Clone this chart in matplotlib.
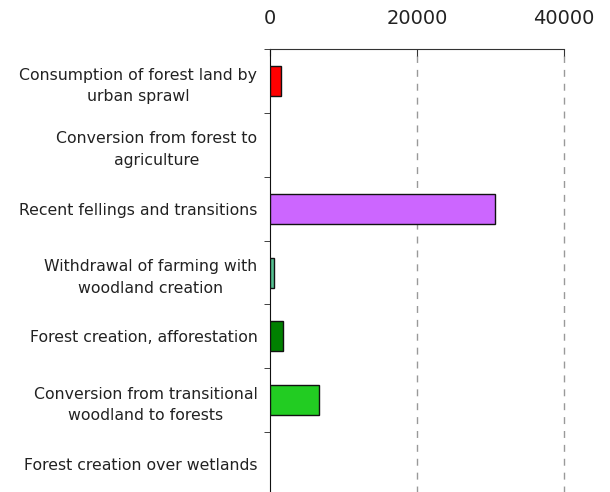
import matplotlib
matplotlib.use("Agg")
import matplotlib.pyplot as plt
import numpy as np

plt.rcParams["font.family"] = ["DejaVu Sans"]

categories = [
    "Consumption of forest land by\nurban sprawl",
    "Conversion from forest to\nagriculture",
    "Recent fellings and transitions",
    "Withdrawal of farming with\nwoodland creation",
    "Forest creation, afforestation",
    "Conversion from transitional\nwoodland to forests",
    "Forest creation over wetlands",
]
values = [1450, 0, 30600, 600, 1730, 6620, 0]
colors = ["#ff0000", "#999999", "#cc66ff", "#55c090", "#008000", "#22cc22", "#999999"]
xticks = [0, 20000, 40000]

fig = plt.figure(figsize=(6.10, 4.92), dpi=100)
ax = fig.add_axes([0.4426, -0.008, 0.482, 0.908])

y = np.arange(len(categories))
lws = [1.0 if v > 0 else 0.0 for v in values]
ax.barh(y, values, height=0.47, color=colors, edgecolor="#111111", linewidth=lws, zorder=3)
ax.set_ylim(len(categories) - 0.5, -0.5)
ax.set_xlim(0, 40000)

ax.xaxis.tick_top()
ax.set_xticks(xticks)
ax.set_xticklabels([str(t) for t in xticks], fontsize=14, color="#222222")
ax.tick_params(axis="x", direction="in", length=5, pad=15, color="#333333")

ax.set_yticks(y)
ax.set_yticklabels(categories, fontsize=11.3, multialignment="center",
                   color="#222222", linespacing=1.55)
ax.tick_params(axis="y", which="major", length=0, pad=9)
ax.set_yticks(np.arange(len(categories) + 1) - 0.5, minor=True)
ax.tick_params(axis="y", which="minor", length=4, direction="out", color="#222222")

for xv in xticks[1:]:
    ax.axvline(xv, color="#999999", linestyle=(0, (5, 5)), linewidth=1.0, zorder=1, clip_on=False)

ax.spines["right"].set_visible(False)
ax.spines["bottom"].set_visible(False)
ax.spines["top"].set_color("#333333")
ax.spines["top"].set_zorder(4)
ax.spines["left"].set_color("#111111")

fig.savefig("out.png", dpi=100)
